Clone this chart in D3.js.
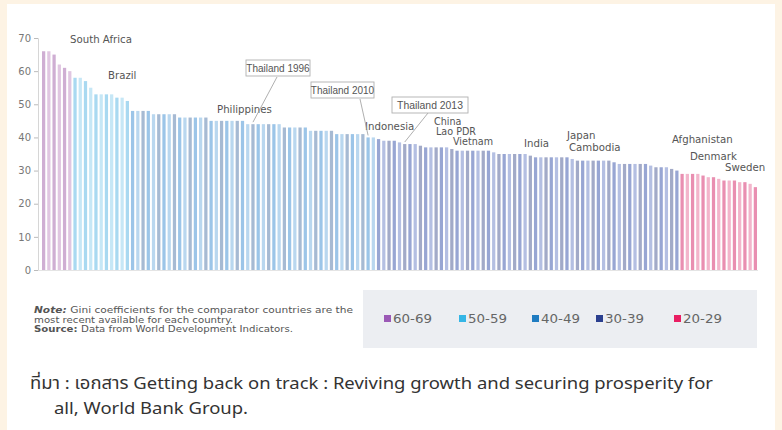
<!DOCTYPE html>
<html><head><meta charset="utf-8">
<script src="https://cdn.jsdelivr.net/npm/d3@7"></script>
<style>
html,body{margin:0;padding:0;background:#fdf3e4;}
svg{display:block;}
</style></head>
<body>
<script>
// ---- data ----
const groups = ["60-69","50-59","40-49","30-39","20-29"];
const legendColors = ["#9b59b6","#35b6e6","#1f7cc1","#2b3f8f","#e91e63"];
const g6069 = [66,66,65,62,61,60];
const g5059 = [58,58,57,55,53,53,53,53,52,52,51];
const g4049 = [48,48,48,48,47,47,47,47,47,46,46,46,46,46,46,45,45,45,45,45,45,45,44,44,44,44,44,44,44,43,43,43,43,43,42,42,42,42,42,41,41,41,41,41,41,40,40];
const g3039 = [39.5,39,39,39,38.5,38,38,38,37.5,37,37,37,37,37,36.5,36,36,36,36,36,36,36,35.5,35,35,35,35,35,35,34.5,34,34,34,34,34,34,34,33.5,33,33,33,33,33,33,33,32.5,32,32,32,32,32,32,31.5,31,31,31,30.5,30];
const g2029 = [29,29,29,29,28.5,28,28,27.5,27,27,27,26.5,26.5,26,25];
const yTicks = [0,10,20,30,40,50,60,70];
const labels = ["South Africa","Brazil","Philippines","Indonesia","China","Lao PDR","Vietnam","India","Japan","Cambodia","Afghanistan","Denmark","Sweden"];
const thaiLabels = ["Thailand 1996","Thailand 2010","Thailand 2013"];
const thaiBars = [40,62,69];
const noteLines = ["Gini coefficients for the comparator countries are the","most recent available for each country.","Data from World Development Indicators."];
const sourceLine1 = "ที่มา : เอกสาร Getting back on track : Reviving growth and securing prosperity for";
const sourceLine2 = "all, World Bank Group.";

// ---- build ----
const barShades = [["#cfaed3","#e0c6e1"],["#a9d9f1","#c6e7f6"],["#9cc5e8","#b9d7ef","#a6bad3"],["#98a6d3","#b4bfe2","#a2aac8"],["#e98fb1","#f3b5cb"]];
const allGroups = [g6069,g5059,g4049,g3039,g2029];
const bars = [];
allGroups.forEach((arr,gi)=>arr.forEach((v,j)=>bars.push({v,gi,j})));

const W=782,H=430;
const svg=d3.select("body").append("svg").attr("width",W).attr("height",H);
svg.append("rect").attr("x",7).attr("y",4).attr("width",768).attr("height",H-4).attr("fill","#ffffff");

const x=d3.scaleBand().domain(d3.range(bars.length)).range([42,757]).paddingInner(0.38).paddingOuter(0);
const y=d3.scaleLinear().domain([0,70]).range([270,38]);

const wide="'DejaVu Sans', Verdana, sans-serif";
const font="Liberation Sans, Arial, sans-serif";

// axis
const ax=svg.append("g").attr("transform","translate(38,0)")
  .call(d3.axisLeft(y).tickValues(yTicks).tickSize(4).tickPadding(3));
ax.select(".domain").attr("stroke","#d6d6d6");
ax.selectAll(".tick line").attr("stroke","#bbb");
ax.selectAll(".tick text").attr("fill","#777").attr("font-family",wide).attr("font-size","10px");
svg.append("line").attr("x1",38).attr("x2",758).attr("y1",y(0)+0.5).attr("y2",y(0)+0.5).attr("stroke","#e4e4e4");

// bars
svg.append("g").selectAll("rect").data(bars).join("rect")
  .attr("x",(d,i)=>x(i)).attr("width",x.bandwidth())
  .attr("y",d=>y(d.v)).attr("height",d=>y(0)-y(d.v))
  .attr("fill",d=>{const s=barShades[d.gi];return s[d.j% s.length];});

// annotations
const labelPos=[[70,43],[108,79],[217,113],[365,130],[434,125],[436,135],[453,145],[524,147],[567,139],[569,151],[672,143],[690,160],[725,171]];
const labelSize=[10.2,10.2,10.2,10.2,9.6,9.6,9.6,10.2,10.2,10.2,10.2,10.2,10.2];
const ann=svg.append("g").attr("font-family",wide).attr("fill","#555");
labels.forEach((t,i)=>ann.append("text").attr("x",labelPos[i][0]).attr("y",labelPos[i][1]).attr("font-size",labelSize[i]+"px").text(t));

// Thailand boxes with leader lines
const boxPos=[[246,60,64],[311,82,63],[392,97,76]];
const boxFont=[10,10,10.4];
const leadStart=[[277,77],[360,99],[428,113]];
thaiLabels.forEach((t,i)=>{
  const [bx,by,bw]=boxPos[i];
  const bi=thaiBars[i];
  const tx=x(bi)+x.bandwidth()/2, ty=y(bars[bi].v)-2;
  svg.append("line").attr("x1",leadStart[i][0]).attr("y1",leadStart[i][1]).attr("x2",tx).attr("y2",ty)
    .attr("stroke","#9a9a9a").attr("stroke-width",0.8);
  svg.append("rect").attr("x",bx).attr("y",by).attr("width",bw).attr("height",16)
    .attr("fill","#fff").attr("stroke","#b0b0b0").attr("stroke-width",0.9);
  svg.append("text").attr("x",bx+bw/2).attr("y",by+11.5).attr("text-anchor","middle")
    .attr("font-family",font).attr("font-size",boxFont[i]+"px").attr("fill","#555").text(t);
});

// note
const noteW=[319,199,259];
const note=svg.append("g").attr("font-family",wide).attr("font-size","9.4px").attr("fill","#555");
const n1=note.append("text").attr("x",34).attr("y",313).attr("textLength",noteW[0]).attr("lengthAdjust","spacingAndGlyphs");
n1.append("tspan").attr("font-weight","bold").attr("font-style","italic").text("Note: ");
n1.append("tspan").text(noteLines[0]);
note.append("text").attr("x",34).attr("y",322.5).attr("textLength",noteW[1]).attr("lengthAdjust","spacingAndGlyphs").text(noteLines[1]);
const n3=note.append("text").attr("x",34).attr("y",332).attr("textLength",noteW[2]).attr("lengthAdjust","spacingAndGlyphs");
n3.append("tspan").attr("font-weight","bold").text("Source: ");
n3.append("tspan").text(noteLines[2]);

// legend
svg.append("rect").attr("x",363).attr("y",290).attr("width",394).attr("height",58).attr("fill","#eceef2");
const legX=[384,459,532,596,674];
const lg=svg.append("g").attr("font-family",wide).attr("font-size","11.5px").attr("fill","#666");
groups.forEach((gname,i)=>{
  lg.append("rect").attr("x",legX[i]).attr("y",315).attr("width",7).attr("height",7).attr("fill",legendColors[i]);
  lg.append("text").attr("x",legX[i]+9).attr("y",323).attr("textLength",39).attr("lengthAdjust","spacingAndGlyphs").text(gname);
});

// Thai source
const src=svg.append("g").attr("font-family","Tahoma, 'Noto Sans Thai', 'Liberation Sans Narrow', 'DejaVu Sans Condensed', sans-serif").attr("font-size","17px").attr("fill","#333");
src.append("text").attr("x",30).attr("y",389).attr("textLength",683).attr("lengthAdjust","spacingAndGlyphs").text(sourceLine1);
src.append("text").attr("x",54).attr("y",414).attr("textLength",194).attr("lengthAdjust","spacingAndGlyphs").text(sourceLine2);
</script>
</body></html>
